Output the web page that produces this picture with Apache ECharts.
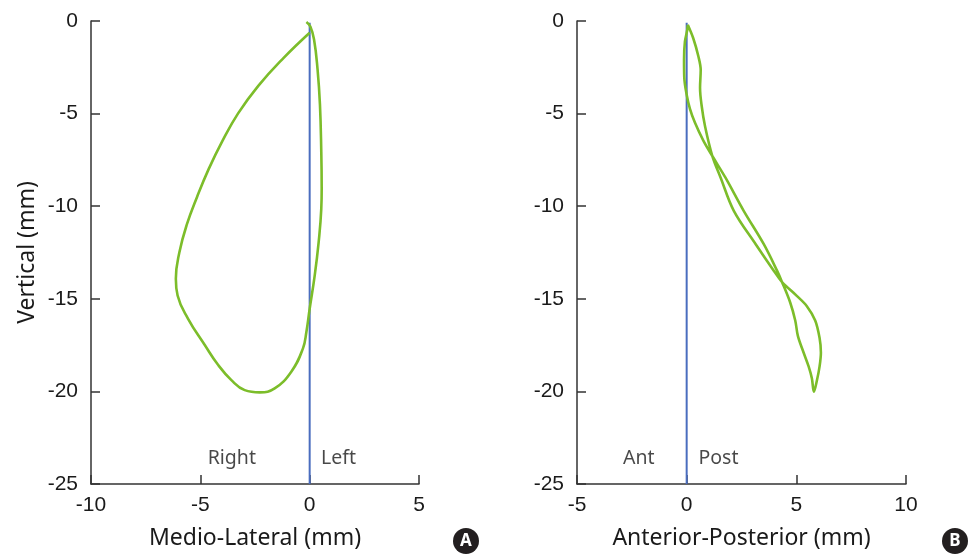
<!DOCTYPE html>
<html>
<head>
<meta charset="utf-8">
<script src="https://cdn.jsdelivr.net/npm/echarts@6/dist/echarts.min.js"></script>
<style>
html, body { margin: 0; padding: 0; background: #fff; }
#main { width: 978px; height: 555px; }
</style>
</head>
<body>
<div id="main"></div>
<script>
// Medio-lateral trajectory (panel A)
var mlX = [-0.15, 0.03, 0.2, 0.36, 0.47, 0.53, 0.55, 0.53, 0.41, 0.23, 0.0, -0.15, -0.31, -0.84, -1.6, -2.28, -2.97, -3.58, -4.2, -4.79, -5.56, -6.04, -6.12, -5.96, -5.62, -5.15, -4.62, -4.0, -3.28, -2.35, -1.2, 0.0];
var mlY = [-0.05, -0.3, -1.0, -2.6, -4.5, -7.0, -9.0, -10.16, -11.95, -13.75, -15.54, -16.79, -17.69, -18.94, -19.84, -20.05, -19.93, -19.39, -18.55, -17.51, -16.08, -14.82, -13.92, -12.5, -11.0, -9.5, -8.0, -6.5, -5.0, -3.5, -2.0, -0.63];

// Anterior-posterior trajectory (panel B)
var apX = [0.05, 0.3, 0.53, 0.64, 0.61, 0.68, 0.84, 1.17, 1.55, 2.15, 3.14, 3.97, 4.35, 5.02, 5.48, 5.86, 6.06, 6.12, 6.06, 5.94, 5.8, 5.71, 5.56, 5.33, 5.07, 4.95, 4.72, 4.35, 4.12, 3.51, 2.6, 1.77, 1.17, 0.76, 0.38, 0.15, 0.0, -0.11, -0.12, -0.08, 0.03, 0.05];
var apY = [-0.2, -0.93, -1.89, -2.65, -3.6, -4.55, -5.7, -7.29, -8.46, -10.25, -12.04, -13.48, -14.1, -14.84, -15.4, -16.17, -17.12, -17.9, -18.65, -19.4, -20.02, -19.3, -18.65, -17.9, -17.0, -16.17, -15.2, -14.1, -13.48, -12.04, -10.25, -8.46, -7.29, -6.46, -5.5, -4.74, -3.98, -3.03, -2.08, -1.12, -0.46, -0.2];

// zero reference line
var refX = [0, 0];
var refY = [-0.1, -25];

// side labels
var mlSides = ['Right', 'Left'];
var mlSideX = [-3.56, 1.32];
var apSides = ['Ant', 'Post'];
var apSideX = [-2.18, 1.45];
var sideY = -23.6;

function pairs(xs, ys) {
	return xs.map(function (x, i) { return [x, ys[i]]; });
}
function sideData(names, xs) {
	return names.map(function (n, i) { return { name: n, value: [xs[i], sideY] }; });
}

var font = 'Noto Sans';
var tickFont = 'Liberation Sans';
var ink = '#1a1a1a';
var green = '#7cbd2a';
var blue = '#4a6dbf';

function xAxisOf(idx, min, max, name) {
	return {
		gridIndex: idx, type: 'value', min: min, max: max, interval: 5,
		name: name, nameLocation: 'middle', nameGap: 43,
		nameTextStyle: { fontFamily: font, fontSize: 23, color: ink },
		axisLine: { onZero: false, lineStyle: { color: '#333', width: 1.5 } },
		axisTick: { inside: true, length: 9, lineStyle: { color: '#333', width: 1.5 } },
		axisLabel: { margin: 11, fontFamily: tickFont, fontSize: 21, color: ink },
		splitLine: { show: false }
	};
}
function yAxisOf(idx, name) {
	return {
		gridIndex: idx, type: 'value', min: -25, max: 0, interval: 5,
		name: name, nameLocation: 'middle', nameGap: 52,
		nameTextStyle: { fontFamily: font, fontSize: 23, color: ink },
		axisLine: { onZero: false, lineStyle: { color: '#333', width: 1.5 } },
		axisTick: { inside: true, length: 9, lineStyle: { color: '#333', width: 1.5 } },
		axisLabel: { margin: 13, fontFamily: tickFont, fontSize: 21, color: ink },
		splitLine: { show: false }
	};
}
function sideSeries(idx, names, xs) {
	return {
		type: 'scatter', xAxisIndex: idx, yAxisIndex: idx, symbolSize: 0,
		data: sideData(names, xs), silent: true,
		label: { show: true, position: 'inside', formatter: '{b}', fontFamily: font, fontSize: 19.5, color: ink }
	};
}

var option = {
	animation: false,
	grid: [
		{ left: 91, top: 21, width: 328, height: 465 },
		{ left: 577, top: 21, width: 329, height: 465 }
	],
	xAxis: [
		xAxisOf(0, -10, 5, 'Medio-Lateral (mm)'),
		xAxisOf(1, -5, 10, 'Anterior-Posterior (mm)')
	],
	yAxis: [
		yAxisOf(0, 'Vertical (mm)'),
		yAxisOf(1, '')
	],
	series: [
		{ type: 'line', xAxisIndex: 0, yAxisIndex: 0, data: pairs(refX, refY), showSymbol: false, lineStyle: { color: blue, width: 2 } },
		{ type: 'line', xAxisIndex: 1, yAxisIndex: 1, data: pairs(refX, refY), showSymbol: false, lineStyle: { color: blue, width: 2 } },
		{ type: 'line', xAxisIndex: 0, yAxisIndex: 0, data: pairs(mlX, mlY), showSymbol: false, smooth: 0.45, lineStyle: { color: green, width: 2.6 } },
		{ type: 'line', xAxisIndex: 1, yAxisIndex: 1, data: pairs(apX, apY), showSymbol: false, smooth: 0.35, lineStyle: { color: green, width: 2.6 } },
		sideSeries(0, mlSides, mlSideX),
		sideSeries(1, apSides, apSideX)
	],
	graphic: [
		{ type: 'circle', shape: { cx: 466, cy: 541, r: 13 }, style: { fill: '#231f20' } },
		{ type: 'text', x: 466, y: 541, style: { text: 'A', fill: '#fff', font: 'bold 17px "Noto Sans"', textAlign: 'center', textVerticalAlign: 'middle' } },
		{ type: 'circle', shape: { cx: 955, cy: 541, r: 13 }, style: { fill: '#231f20' } },
		{ type: 'text', x: 955, y: 541, style: { text: 'B', fill: '#fff', font: 'bold 17px "Noto Sans"', textAlign: 'center', textVerticalAlign: 'middle' } }
	]
};

var chart = echarts.init(document.getElementById('main'));
chart.setOption(option);
</script>
</body>
</html>
